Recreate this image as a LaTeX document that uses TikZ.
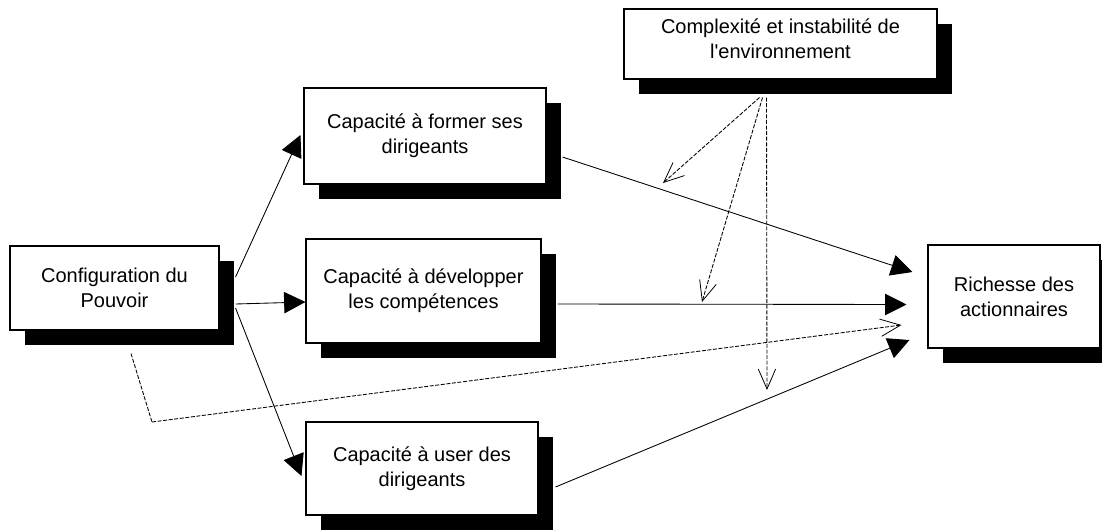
\documentclass[tikz,border=0pt]{standalone}
\usepackage{fontspec}
\setmainfont{Liberation Sans}[Ligatures=TeXOff]
\usetikzlibrary{arrows.meta,shadows}
\tikzset{
  box/.style={draw=black, line width=0.8pt, fill=white, align=center,
    font=\fontsize{15pt}{18.75pt}\selectfont,
    drop shadow={shadow xshift=11.25pt, shadow yshift=-11.25pt, fill=black, opacity=1}},
  solidarrow/.style={line width=0.65pt, -{Triangle[length=16pt, width=16pt]}},
  dasharrow/.style={line width=0.65pt, dash pattern=on 3pt off 1.2pt, -{Straight Barb[length=15pt, width=13pt, line width=0.6pt]}},
  dashline/.style={line width=0.65pt, dash pattern=on 3pt off 1.2pt},
  txt/.style={align=center, font=\fontsize{15pt}{18.75pt}\selectfont}
}
\begin{document}
\begin{tikzpicture}[x=0.75pt, y=-0.75pt]
\useasboundingbox (0,0) rectangle (1102,529);

\node[box, minimum width=156.75pt, minimum height=63pt] (config) at (114.5,288) {Configuration du\\Pouvoir};
\node[box, minimum width=181.5pt, minimum height=72pt] (form) at (425,136) {Capacité à former ses\\dirigeants};
\node[box, minimum width=176.25pt, minimum height=78pt] (dev) at (423.5,291) {Capacité à développer\\les compétences};
\node[box, minimum width=174pt, minimum height=69.75pt] (user) at (422,468.5) {Capacité à user des\\dirigeants};
\node[box, minimum width=129pt, minimum height=77.25pt] (rich) at (1014,296.5) {Richesse des\\actionnaires};
\node[box, minimum width=234.75pt, minimum height=52.5pt] (comp) at (780.5,44) {};
\node[txt] (comptext) at ([yshift=4pt]comp.center) {Complexité et instabilité de\\l'environnement};

% configuration -> capacities
\draw[solidarrow] ([shift={(16,-11)}]config.east) -- ([shift={(-3,-1)}]form.west);
\draw[solidarrow] ([shift={(16,16)}]config.east) -- ([shift={(0,11)}]dev.west);
\draw[solidarrow] ([shift={(16,20)}]config.east) -- ([shift={(-4,7.5)}]user.west);

% capacities -> richesse
\draw[solidarrow] ([shift={(16,21)}]form.east) -- ([shift={(-15,-24.5)}]rich.west);
\draw[solidarrow] ([shift={(16,13)}]dev.east) -- ([shift={(-21,8)}]rich.west);
\draw[solidarrow] ([shift={(17,18.5)}]user.east) -- ([shift={(-18,43.5)}]rich.west);

% dashed direct effect
\coordinate (corner) at (152,422);
\draw[dashline] ([shift={(16.5,23)}]config.south) -- (corner);
\draw[dasharrow] (corner) -- ([shift={(-26,28.5)}]rich.west);

% moderating effects
\coordinate (mA) at (663,183);
\coordinate (mB) at (702,302);
\coordinate (mC) at (767,390);
\draw[dasharrow] ([shift={(-21,18)}]comp.south) -- (mA);
\draw[dasharrow] ([shift={(-18,18)}]comp.south) -- (mB);
\draw[dasharrow] ([shift={(-14,18)}]comp.south) -- (mC);
\end{tikzpicture}
\end{document}
